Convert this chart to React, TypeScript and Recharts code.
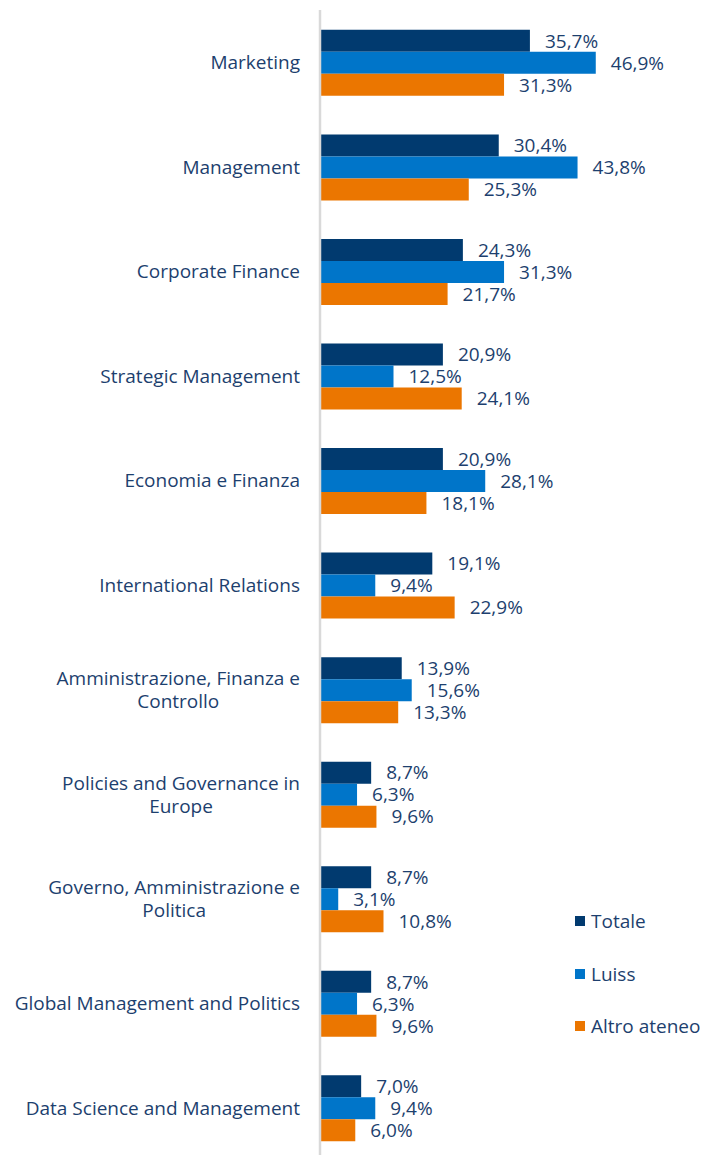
import { Bar, BarChart, LabelList, Legend, XAxis, YAxis } from "recharts";

const categories = [
  "Marketing",
  "Management",
  "Corporate Finance",
  "Strategic Management",
  "Economia e Finanza",
  "International Relations",
  "Amministrazione, Finanza e\nControllo",
  "Policies and Governance in\nEurope",
  "Governo, Amministrazione e\nPolitica",
  "Global Management and Politics",
  "Data Science and Management",
];

const seriesNames = ["Totale", "Luiss", "Altro ateneo"];

const totale = [35.7, 30.4, 24.3, 20.9, 20.9, 19.1, 13.9, 8.7, 8.7, 8.7, 7.0];
const luiss = [46.9, 43.8, 31.3, 12.5, 28.1, 9.4, 15.6, 6.3, 3.1, 6.3, 9.4];
const altro = [31.3, 25.3, 21.7, 24.1, 18.1, 22.9, 13.3, 9.6, 10.8, 9.6, 6.0];

const rows = categories.map((name, i) => ({
  name,
  totale: totale[i],
  luiss: luiss[i],
  altro: altro[i],
}));

const NAVY = "#013a6f";
const BLUE = "#0075c9";
const ORANGE = "#eb7600";
const TEXT = "#1d3f6e";
const FONT = '"Open Sans", sans-serif';
const FONT_SIZE = 19;

let measureCtx: CanvasRenderingContext2D | null = null;
function textWidth(text: string): number {
  if (!measureCtx) {
    measureCtx = document.createElement("canvas").getContext("2d");
  }
  if (!measureCtx) return text.length * 9;
  measureCtx.font = `${FONT_SIZE}px ${FONT}`;
  return measureCtx.measureText(text).width;
}

// Multi-line names sit right-aligned as a block, lines centred inside it.
function CategoryTick(props: any) {
  const { x, y, payload } = props;
  const lines = String(payload.value).split("\n");
  const block = Math.max(...lines.map(textWidth));
  const cx = x - block / 2;
  const lineH = 23;
  const top = y - ((lines.length - 1) * lineH) / 2;
  return (
    <g>
      {lines.map((line, i) => (
        <text
          key={i}
          x={cx}
          y={top + i * lineH}
          textAnchor="middle"
          dominantBaseline="central"
          fill={TEXT}
          fontSize={FONT_SIZE}
        >
          {line}
        </text>
      ))}
    </g>
  );
}

const pct = (v: any) => `${Number(v).toFixed(1).replace(".", ",")}%`;

function LegendBox(props: any) {
  const items = [...(props.payload ?? [])].sort(
    (a: any, b: any) => seriesNames.indexOf(a.value) - seriesNames.indexOf(b.value),
  );
  return (
    <div>
      {items.map((item: any) => (
        <div
          key={item.value}
          style={{
            height: 52.5,
            display: "flex",
            alignItems: "center",
            color: TEXT,
            fontSize: FONT_SIZE,
            whiteSpace: "nowrap",
          }}
        >
          <span
            style={{
              width: 10,
              height: 10,
              background: item.color,
              marginRight: 6,
              display: "inline-block",
            }}
          />
          {item.value}
        </div>
      ))}
    </div>
  );
}

export default function App() {
  return (
    <div
      style={{
        position: "absolute",
        top: 0,
        left: 0,
        width: 702,
        height: 1155,
        overflow: "hidden",
        background: "#fff",
        fontFamily: FONT,
      }}
    >
      <BarChart
        width={702}
        height={1160}
        data={rows}
        layout="vertical"
        margin={{ top: 10, right: 88, bottom: 0, left: 0 }}
        barCategoryGap="19%"
        barGap={0}
      >
        <XAxis type="number" domain={[0, 50]} hide />
        <YAxis
          type="category"
          dataKey="name"
          width={320}
          axisLine={{ stroke: "#d9d9d9", strokeWidth: 2.5 }}
          tickLine={false}
          tickSize={0}
          tickMargin={20}
          interval={0}
          tick={<CategoryTick />}
        />
        <Legend
          layout="vertical"
          align="center"
          verticalAlign="middle"
          content={<LegendBox />}
          wrapperStyle={{ left: 575, top: 895, width: 130 }}
        />
        <Bar dataKey="totale" name={seriesNames[0]} fill={NAVY} isAnimationActive={false}>
          <LabelList
            dataKey="totale"
            position="right"
            offset={15}
            formatter={pct}
            fill={TEXT}
            fontSize={FONT_SIZE}
          />
        </Bar>
        <Bar dataKey="luiss" name={seriesNames[1]} fill={BLUE} isAnimationActive={false}>
          <LabelList
            dataKey="luiss"
            position="right"
            offset={15}
            formatter={pct}
            fill={TEXT}
            fontSize={FONT_SIZE}
          />
        </Bar>
        <Bar dataKey="altro" name={seriesNames[2]} fill={ORANGE} isAnimationActive={false}>
          <LabelList
            dataKey="altro"
            position="right"
            offset={15}
            formatter={pct}
            fill={TEXT}
            fontSize={FONT_SIZE}
          />
        </Bar>
      </BarChart>
    </div>
  );
}
